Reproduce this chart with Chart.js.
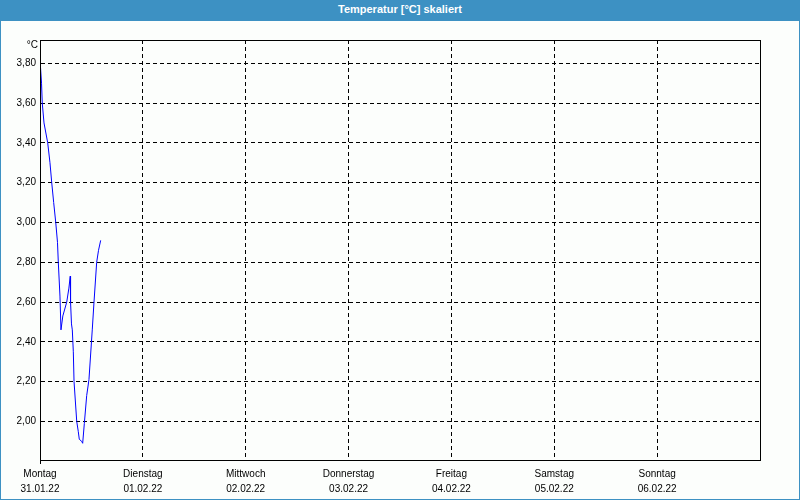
<!DOCTYPE html>
<html>
<head>
<meta charset="utf-8">
<script src="https://cdn.jsdelivr.net/npm/chart.js@4/dist/chart.umd.min.js"></script>
<style>
  html, body { margin: 0; padding: 0; background: #ffffff; }
  #wrap { position: absolute; left: 0; top: 0; width: 798px; height: 499px; border: 1px solid #3d91c3; border-top: none; background: #fcfefc; }
  #hdr { height: 21px; background: #3d91c3; color: #ffffff; font: bold 11px "Liberation Sans", "DejaVu Sans", sans-serif; text-align: center; line-height: 19px; }
  canvas { display: block; }
</style>
</head>
<body>
<div id="wrap">
  <div id="hdr">Temperatur [°C] skaliert</div>
  <canvas id="c" width="798" height="478"></canvas>
</div>
<script>
// time in days since Montag 31.01.22 00:00
const timeDays = [0.005, 0.015, 0.022, 0.039, 0.075, 0.097, 0.114, 0.133, 0.153, 0.170, 0.178, 0.194, 0.204, 0.222, 0.260, 0.281, 0.294, 0.297, 0.306, 0.314, 0.324, 0.331, 0.357, 0.372, 0.382, 0.405, 0.415, 0.431, 0.454, 0.476, 0.508, 0.525, 0.551, 0.569, 0.590];
const temperature = [3.78, 3.70, 3.60, 3.50, 3.40, 3.30, 3.20, 3.10, 3.00, 2.90, 2.80, 2.63, 2.46, 2.53, 2.60, 2.67, 2.73, 2.60, 2.49, 2.46, 2.35, 2.20, 2.00, 1.95, 1.91, 1.90, 1.89, 1.99, 2.13, 2.21, 2.46, 2.60, 2.80, 2.86, 2.91];
const dayNames = ["Montag", "Dienstag", "Mittwoch", "Donnerstag", "Freitag", "Samstag", "Sonntag"];
const dayDates = ["31.01.22", "01.02.22", "02.02.22", "03.02.22", "04.02.22", "05.02.22", "06.02.22"];
const xTickValues = [0, 1, 2, 3, 4, 5, 6, 7];
const yTickValues = [2.0, 2.2, 2.4, 2.6, 2.8, 3.0, 3.2, 3.4, 3.6, 3.8];
const yMin = 1.806, yMax = 3.917;

const FONT = { family: '"Liberation Sans", "DejaVu Sans", sans-serif', size: 10 };

const framePlugin = {
  id: 'frame',
  afterDraw(chart) {
    const { ctx, chartArea: a } = chart;
    ctx.save();
    ctx.strokeStyle = '#000';
    ctx.lineWidth = 1;
    ctx.setLineDash([]);
    ctx.strokeRect(Math.round(a.left) + 0.5, Math.round(a.top) + 0.5, Math.round(a.right - a.left), Math.round(a.bottom - a.top));
    ctx.beginPath();
    ctx.moveTo(Math.round(a.left) + 0.5, Math.round(a.bottom));
    ctx.lineTo(Math.round(a.left) + 0.5, Math.round(a.bottom) + 4);
    ctx.stroke();
    ctx.fillStyle = '#000';
    ctx.font = '10px ' + FONT.family;
    ctx.textAlign = 'right';
    ctx.textBaseline = 'middle';
    ctx.fillText('°C', a.left - 2, a.top + 5);
    ctx.restore();
  }
};

new Chart(document.getElementById('c'), {
  type: 'line',
  data: {
    datasets: [{
      data: timeDays.map((t, i) => ({ x: t, y: temperature[i] })),
      borderColor: '#0000ff',
      borderWidth: 1,
      pointRadius: 0,
      tension: 0,
      fill: false
    }]
  },
  options: {
    responsive: false,
    animation: false,
    devicePixelRatio: 1,
    layout: { padding: { top: 19, right: 39, left: 0, bottom: 0 } },
    plugins: { legend: { display: false }, tooltip: { enabled: false }, title: { display: false } },
    scales: {
      x: {
        type: 'linear',
        min: 0, max: 7,
        afterBuildTicks: s => { s.ticks = xTickValues.map(v => ({ value: v })); },
        afterFit: s => { s.height = 39; },
        grid: { color: '#000', lineWidth: 1, drawTicks: false },
        border: { display: true, color: '#000', dash: [4, 3] },
        ticks: {
          color: '#000', font: { ...FONT, lineHeight: 1.5 }, padding: 7, maxRotation: 0, autoSkip: false,
          callback: (v) => (v < dayNames.length ? [dayNames[v], dayDates[v]] : '')
        }
      },
      y: {
        type: 'linear',
        min: yMin, max: yMax,
        afterBuildTicks: s => { s.ticks = yTickValues.map(v => ({ value: v })); },
        afterFit: s => { s.width = 39; },
        grid: { color: '#000', lineWidth: 1, drawTicks: false },
        border: { display: true, color: '#000', dash: [4, 3] },
        ticks: {
          color: '#000', font: FONT, padding: 4, autoSkip: false,
          callback: v => v.toFixed(2).replace('.', ',')
        }
      }
    }
  },
  plugins: [framePlugin]
});
</script>
</body>
</html>
